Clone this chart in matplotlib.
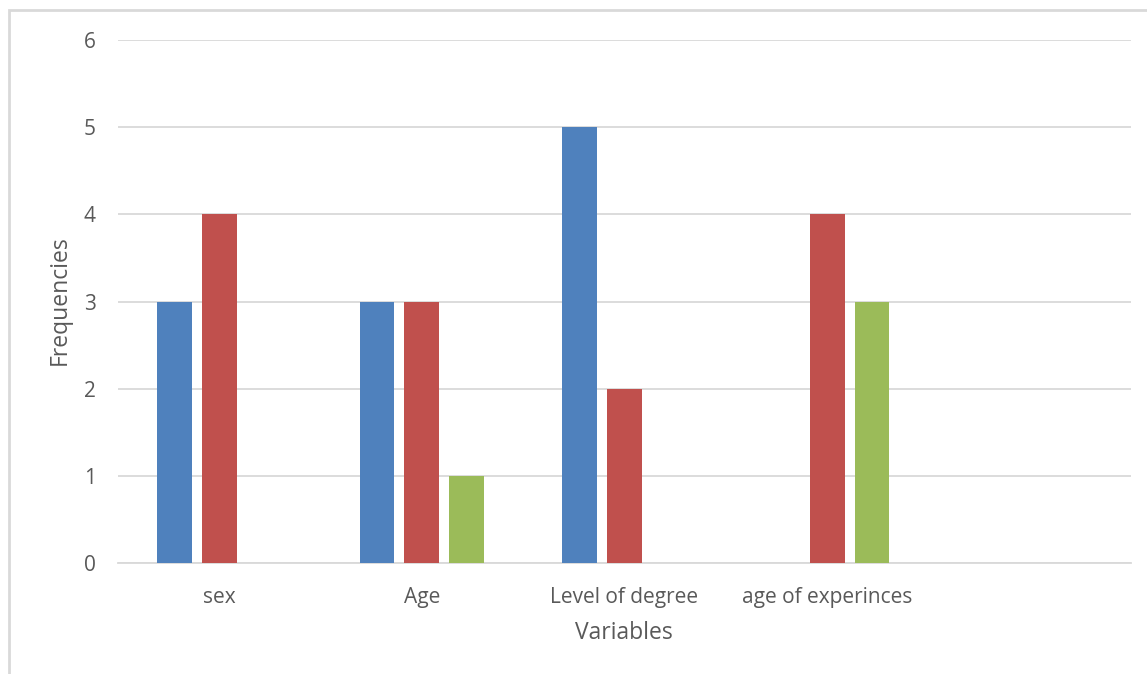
import numpy as np
import matplotlib.pyplot as plt
from matplotlib.patches import Rectangle

plt.rcParams['font.family'] = ['Open Sans', 'DejaVu Sans']

categories = ['sex', 'Age', 'Level of degree', 'age of experinces', '']
series1 = [3, 3, 5, np.nan, np.nan]
series2 = [4, 3, 2, 4, np.nan]
series3 = [np.nan, 1, np.nan, 3, np.nan]

colors = ['#4F81BD', '#C0504D', '#9BBB59']
text_color = '#595959'
grid_color = '#D9D9D9'

W, H = 1147, 674
fig = plt.figure(figsize=(W / 100, H / 100), dpi=100)
ax = fig.add_axes([118 / W, (H - 563) / H, (1131 - 118) / W, (563 - 40) / H])

# outer chart frame, cut off at the right and bottom
fig.patches.append(Rectangle((9 / W, -0.1), 1.2, (H - 10) / H + 0.1,
                             transform=fig.transFigure, fill=False,
                             edgecolor=grid_color, linewidth=2))

x = np.arange(len(categories))
width = 0.172
step = 0.2217
for i, vals in enumerate([series1, series2, series3]):
    ax.bar(x + (i - 1) * step, vals, width, color=colors[i], zorder=3)

ax.set_xlim(-0.5, len(categories) - 0.5)
ax.set_ylim(0, 6)
ax.set_yticks(range(7))
ax.set_xticks(x)
ax.set_xticklabels(categories)
ax.yaxis.grid(True, color=grid_color, linewidth=1.3, zorder=0)
ax.tick_params(length=0, labelsize=15, colors=text_color)
ax.tick_params(axis='y', pad=16)
ax.tick_params(axis='x', pad=17.5)
for s in ['top', 'right', 'left']:
    ax.spines[s].set_visible(False)
ax.spines['bottom'].set_color(grid_color)
ax.spines['bottom'].set_linewidth(1.3)

fig.text(624 / W, 1 - 633 / H, 'Variables', fontsize=16.5, color=text_color,
         ha='center', va='center')
fig.text(60 / W, 1 - 300 / H, 'Frequencies', fontsize=16.5, color=text_color,
         ha='center', va='center', rotation=90)

fig.savefig('out.png', dpi=100, facecolor='white')
